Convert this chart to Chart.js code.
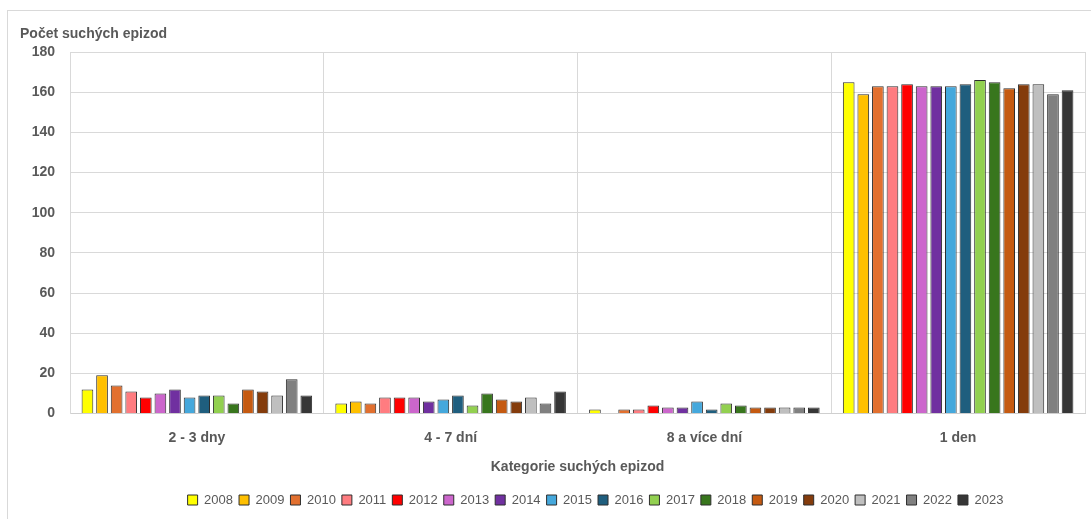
<!DOCTYPE html>
<html><head><meta charset="utf-8">
<script src="https://cdn.jsdelivr.net/npm/chart.js@4/dist/chart.umd.min.js"></script>
<style>
html,body{margin:0;padding:0;background:#fff;overflow:hidden;width:1091px;height:519px;}
#frame{position:absolute;left:7px;top:10px;width:1200px;height:600px;border:1px solid #d9d9d9;}
#wrap{position:absolute;left:0;top:0;width:1091px;height:519px;}
</style></head><body>
<div id="frame"></div>
<div id="wrap"><canvas id="c" width="1091" height="519"></canvas></div>
<script>
const categories = ['2 - 3 dny', '4 - 7 dní', '8 a více dní', '1 den'];
const years = ['2008','2009','2010','2011','2012','2013','2014','2015','2016','2017','2018','2019','2020','2021','2022','2023'];
const dny2to3 = [12,19,14,11,8,10,12,8,9,9,5,12,11,9,17,9];
const dni4to7 = [5,6,5,8,8,8,6,7,9,4,10,7,6,8,5,11];
const dni8plus = [2,0,2,2,4,3,3,6,2,5,4,3,3,3,3,3];
const den1 = [165,159,163,163,164,163,163,163,164,166,165,162,164,164,159,161];
const yearColors = ['#FFFF00','#FFC000','#E2702F','#FF7C80','#FF0000','#CC66CC','#7030A0','#45A8DC','#1F5E7E','#92D050','#38761D','#C55A11','#843C0C','#BFBFBF','#808080','#363636'];
const yTicks = [0,20,40,60,80,100,120,140,160,180];

const FONT = '"Liberation Sans", Arial, sans-serif';
const TXT = '#595959';

const datasets = years.map((y, i) => ({
  label: y,
  data: [dny2to3[i], dni4to7[i], dni8plus[i], den1[i]],
  backgroundColor: yearColors[i],
  borderColor: '#2e2e2e',
  borderWidth: 1,
  categoryPercentage: 0.92,
  barPercentage: 0.8
}));

const shiftLegend = {
  id: 'shiftLegend',
  afterLayout(chart) {
    const l = chart.legend;
    if (l) { l.left += 43; l.right += 43; }
  }
};

new Chart(document.getElementById('c'), {
  type: 'bar',
  data: { labels: categories, datasets },
  plugins: [shiftLegend],
  options: {
    responsive: false,
    animation: false,
    devicePixelRatio: 1,
    layout: { padding: { left: 20, right: 6, top: 0, bottom: 2.5 } },
    plugins: {
      title: {
        display: true, text: 'Počet suchých epizod', align: 'start', color: TXT,
        font: { size: 14, weight: 'bold', family: FONT }, padding: { top: 26, bottom: 9.2 }
      },
      legend: {
        position: 'bottom',
        labels: { boxWidth: 10, boxHeight: 10, padding: 6, color: TXT, font: { size: 13, family: FONT } }
      },
      tooltip: { enabled: false }
    },
    scales: {
      x: {
        afterFit(s) { s.height = 74; },
        grid: { offset: true, color: '#d9d9d9', drawTicks: false },
        border: { color: '#cfcfcf' },
        ticks: { padding: 16, color: TXT, font: { size: 14, weight: 'bold', family: FONT } },
        title: {
          display: true, text: 'Kategorie suchých epizod', color: TXT,
          font: { size: 14, weight: 'bold', family: FONT }, padding: { top: 12, bottom: 12 }
        }
      },
      y: {
        min: 0, max: 180,
        afterBuildTicks(s) { s.ticks = yTicks.map(v => ({ value: v })); },
        afterFit(s) { s.width = 50; },
        grid: { color: '#d9d9d9', drawTicks: false },
        border: { display: true, color: '#d9d9d9' },
        ticks: { padding: 15, color: TXT, font: { size: 14, weight: 'bold', family: FONT } }
      }
    }
  }
});
</script>
</body></html>
